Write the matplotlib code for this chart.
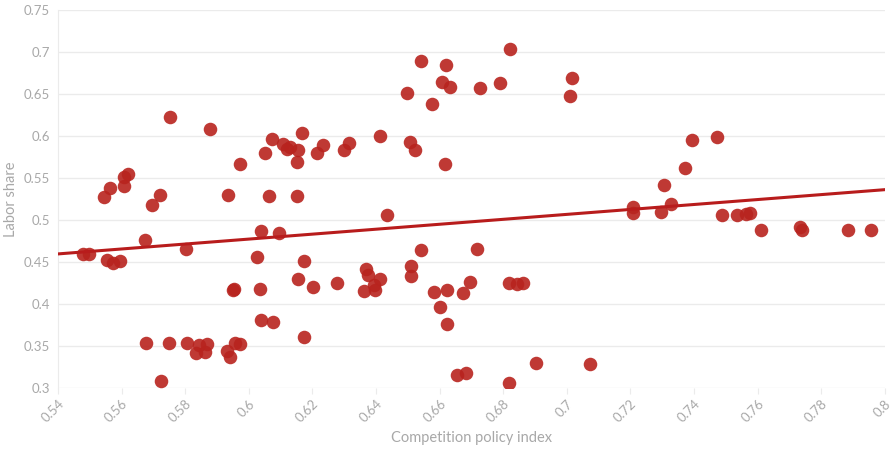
import matplotlib
matplotlib.use("Agg")
import matplotlib.pyplot as plt
from matplotlib.ticker import FuncFormatter, MultipleLocator

plt.rcParams["font.family"] = ["Lato", "DejaVu Sans"]

# Competition policy index vs. labor share, one point per observation
policy_index = [
    0.5478, 0.5497, 0.5544, 0.5563, 0.5607, 0.5607, 0.5620, 0.5554, 0.5573, 0.5595,
    0.5673, 0.5695, 0.5720, 0.5752, 0.5877, 0.5802, 0.5676, 0.5749, 0.5723, 0.5805,
    0.5833, 0.5843, 0.5862, 0.5868, 0.5931, 0.5940, 0.5956, 0.5971, 0.5953, 0.5950,
    0.6025, 0.6034, 0.6037, 0.6075, 0.6037, 0.6094, 0.5971, 0.5934, 0.6062, 0.6050,
    0.6072, 0.6106, 0.6119, 0.6128, 0.6154, 0.6150, 0.6166, 0.6150, 0.6213, 0.6232,
    0.6298, 0.6314, 0.6411, 0.6499, 0.6540, 0.6577, 0.6609, 0.6621, 0.6634, 0.6508,
    0.6524, 0.6618, 0.6728, 0.6791, 0.6822, 0.7011, 0.7017, 0.6436, 0.6540, 0.6719,
    0.6511, 0.6511, 0.6154, 0.6172, 0.6201, 0.6276, 0.6370, 0.6376, 0.6361, 0.6414,
    0.6395, 0.6398, 0.6581, 0.6624, 0.6672, 0.6697, 0.6602, 0.6624, 0.6172, 0.6819,
    0.6844, 0.6863, 0.6656, 0.6684, 0.6819, 0.6904, 0.7073, 0.7306, 0.7372, 0.7394,
    0.7472, 0.7208, 0.7208, 0.7296, 0.7328, 0.7488, 0.7535, 0.7563, 0.7576, 0.7610,
    0.7733, 0.7739, 0.7883, 0.7956,
]
labor_share = [
    0.4593, 0.4593, 0.5272, 0.5379, 0.5403, 0.5510, 0.5546, 0.4521, 0.4486, 0.4509,
    0.4760, 0.5177, 0.5296, 0.6225, 0.6082, 0.4652, 0.3532, 0.3532, 0.3080, 0.3532,
    0.3413, 0.3509, 0.3425, 0.3520, 0.3437, 0.3366, 0.3532, 0.3520, 0.4176, 0.4164,
    0.4557, 0.4176, 0.3806, 0.3783, 0.4867, 0.4843, 0.5665, 0.5296, 0.5284, 0.5796,
    0.5963, 0.5903, 0.5844, 0.5868, 0.5832, 0.5689, 0.6034, 0.5284, 0.5796, 0.5892,
    0.5832, 0.5915, 0.5999, 0.6511, 0.6892, 0.6380, 0.6642, 0.6845, 0.6583, 0.5927,
    0.5832, 0.5665, 0.6571, 0.6630, 0.7035, 0.6475, 0.6690, 0.5057, 0.4640, 0.4652,
    0.4450, 0.4331, 0.4295, 0.4509, 0.4200, 0.4247, 0.4414, 0.4343, 0.4152, 0.4295,
    0.4223, 0.4164, 0.4140, 0.4164, 0.4128, 0.4259, 0.3961, 0.3759, 0.3604, 0.4247,
    0.4235, 0.4247, 0.3151, 0.3175, 0.3056, 0.3294, 0.3282, 0.5415, 0.5617, 0.5951,
    0.5987, 0.5153, 0.5081, 0.5093, 0.5189, 0.5057, 0.5057, 0.5069, 0.5081, 0.4879,
    0.4915, 0.4879, 0.4879, 0.4879,
]

# Linear trend, evaluated at the ends of the x range
trend_x = [0.54, 0.80]
trend_y = [0.4595, 0.5360]

DOT = "#b8231e"
TEXT = "#a8a8a8"
GRID = "#ebebeb"

fig = plt.figure(figsize=(8.92, 4.5), dpi=100)
ax = fig.add_axes([0.065, 0.138, 0.927, 0.84])

ax.scatter(policy_index, labor_share, s=95, color=DOT, alpha=0.9,
           linewidths=0, zorder=3)
ax.plot(trend_x, trend_y, color="#b81c1c", lw=2.2, zorder=4)

ax.set_xlim(0.54, 0.80)
ax.set_ylim(0.30, 0.75)
ax.xaxis.set_major_locator(MultipleLocator(0.02))
ax.yaxis.set_major_locator(MultipleLocator(0.05))

fmt = FuncFormatter(lambda v, _: f"{v:.2f}".rstrip("0").rstrip("."))
ax.xaxis.set_major_formatter(fmt)
ax.yaxis.set_major_formatter(fmt)

ax.grid(axis="y", color=GRID, lw=1)
ax.set_axisbelow(True)
for side in ("top", "right", "bottom"):
    ax.spines[side].set_visible(False)
ax.spines["left"].set_color(GRID)

ax.tick_params(axis="y", length=0, pad=6, labelsize=9.5, labelcolor=TEXT)
ax.tick_params(axis="x", length=4, color=GRID, pad=3, labelsize=9.5,
               labelcolor=TEXT, labelrotation=45)
for lbl in ax.get_xticklabels():
    lbl.set_ha("right")
    lbl.set_rotation_mode("anchor")

ax.set_xlabel("Competition policy index", fontsize=10.5, color=TEXT, va="center")
ax.xaxis.set_label_coords(0.5, -0.132)
ax.set_ylabel("Labor share", fontsize=10.5, color=TEXT, va="center")
ax.yaxis.set_label_coords(-0.057, 0.5)

fig.savefig("out.png", dpi=100)
